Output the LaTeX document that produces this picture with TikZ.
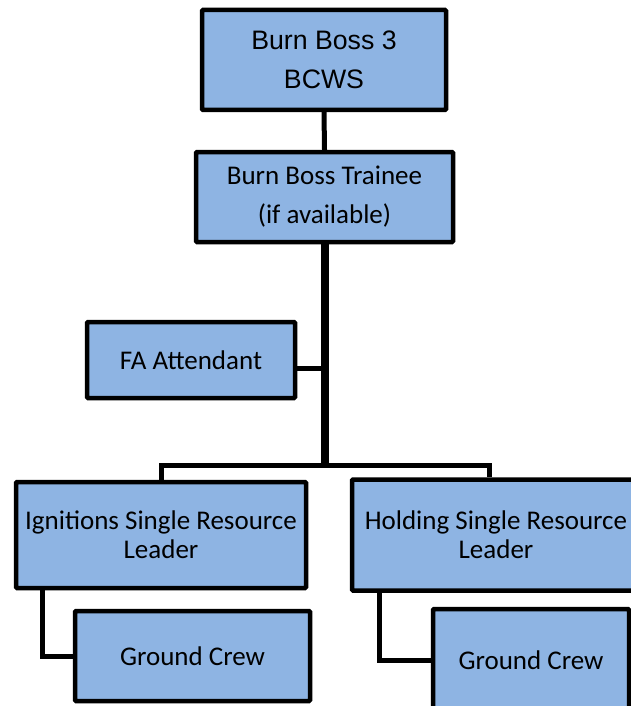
\documentclass[tikz,border=0pt]{standalone}
\usepackage{fontspec}
\setmainfont{Carlito}
\newfontfamily\arialfont{Liberation Sans}
\definecolor{boxblue}{HTML}{8EB4E3}

\begin{document}
\begin{tikzpicture}[x=1pt,y=-1pt,
    post/.style={draw=black,fill=boxblue,line width=4.5pt,rounded corners=1pt,
                 inner sep=2pt,align=center,font=\fontsize{27}{39}\selectfont},
    tight/.style={font=\fontsize{27}{29}\selectfont},
    link/.style={line width=5pt,line cap=rect},
    trunk/.style={line width=8pt}]
\useasboundingbox (0,0) rectangle (631,706);
\clip (0,0) rectangle (631,706);

% Command chain.
\node[post,minimum width=244pt,minimum height=100pt,font=\arialfont\fontsize{26.7}{39}\selectfont]
  (boss) at (324,60) {Burn Boss 3\\BCWS};
\node[post,minimum width=257pt,minimum height=90pt] (trainee) at (324.5,197) {Burn Boss Trainee\\(if available)};
\node[post,minimum width=208pt,minimum height=76pt] (fa) at (191,360) {FA Attendant};
\node[post,tight,minimum width=290pt,minimum height=106pt] (ign) at (161,535) {Ignitions Single Resource\\Leader};
\node[post,tight,minimum width=288pt,minimum height=111pt] (hold) at (496,535) {Holding Single Resource\\Leader};
\node[post,minimum width=235pt,minimum height=90pt] (gcl) at (192.5,656) {Ground Crew};
\node[post,minimum width=196pt,minimum height=102pt] (gcr) at (531,660) {Ground Crew};

\coordinate (tap) at (325,368);
\coordinate (fork) at (325,465);

\draw[link] (boss.south) -- (trainee.north);
\draw[trunk] (trainee.south -| fork) -- ([yshift=-2.5pt]fork);
\draw[link] (fa.east |- tap) -- (tap);
\draw[link,line cap=butt] (ign.north -| 161.5,0) |- (fork) -| (hold.north -| 489.5,0);
\draw[link,line cap=butt] ([xshift=29pt]ign.south west) |- (gcl.west);
\draw[link,line cap=butt] ([xshift=30pt]hold.south west) |- (gcr.west);
\end{tikzpicture}
\end{document}
